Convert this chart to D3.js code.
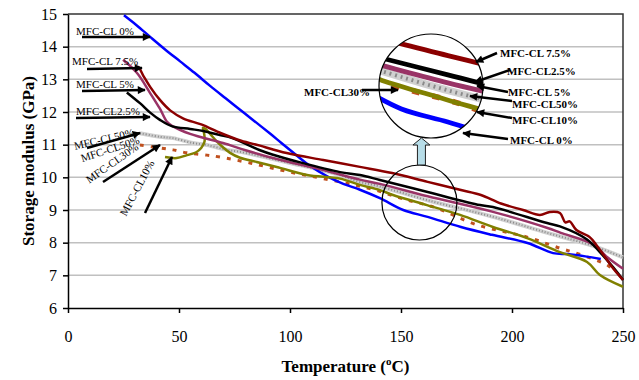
<!DOCTYPE html>
<html>
<head>
<meta charset="utf-8">
<script src="https://cdn.jsdelivr.net/npm/d3@7"></script>
<style>
  body { margin: 0; background: #fff; }
  svg text { font-family: "Liberation Serif", "Times New Roman", serif; fill: #000; }
</style>
</head>
<body>
<svg id="chart" width="639" height="380"></svg>
<script>
// values: [temperature (C), storage modulus (GPa)]
const cl0 = [[25.2,14.96],[31,14.65],[37,14.3],[44,13.9],[50.5,13.55],[57,13.2],[64,12.8],[71,12.42],
  [77.5,12.07],[84,11.72],[91,11.34],[96,11.06],[101.4,10.76],[108,10.4],[117,10.02],[124,9.8],[131.5,9.62],
  [140.5,9.36],[151,9.0],[162,8.79],[177,8.48],[191,8.24],[207,7.99],[218.5,7.68],[225,7.65],[233,7.58],[240,7.5]];
const cl75 = [[30,13.33],[31.5,13.38],[34,13.1],[37,12.77],[41.4,12.37],[46,12.05],[52,11.8],[60,11.62],
  [69,11.35],[78,11.12],[86.5,10.97],[92,10.86],[100,10.72],[115,10.53],[131.5,10.32],[146,10.13],[162,9.86],
  [177,9.61],[186,9.46],[195,9.2],[205,9.0],[212.6,8.85],[217,8.94],[221.6,8.91],[224,8.62],[226,8.65],
  [229,8.39],[235,8.17],[238,7.93],[242,7.55],[245.5,7.22],[250,6.86]];
const cl5 = [[26.5,12.6],[32.4,12.27],[37,11.98],[41.4,11.76],[47,11.56],[55,11.48],[61,11.42],[68,11.3],
  [74,11.2],[86.5,10.83],[92,10.7],[105,10.45],[122.5,10.16],[131.5,10.07],[140.5,9.92],[162,9.55],
  [185.6,9.15],[191.4,9.09],[215.8,8.6],[221.6,8.5],[233.8,8.1],[239.6,7.71],[245.5,7.25],[250,6.86]];
const cl25 = [[24.8,13.6],[31,13.2],[37,12.58],[41.4,12.1],[44.6,11.7],[47.3,11.56],[55,11.33],[69.8,11.05],
  [80,10.83],[92.3,10.59],[115,10.22],[131.5,9.93],[140.5,9.8],[162,9.42],[191,8.95],[216,8.45],[222,8.3],
  [236.5,7.95],[242.8,7.56],[250,7.2]];
const cl50 = [[32.4,11.35],[41.4,11.24],[47.3,11.2],[56.3,11.05],[62.6,10.99],[71.6,10.84],[77.5,10.78],
  [100,10.44],[122.5,10.07],[131.5,9.86],[140.5,9.72],[162,9.3],[191,8.8],[216,8.3],[236.5,7.9],[250,7.55]];
const cl30 = [[32.4,10.99],[41.4,10.9],[47.3,10.84],[53.6,10.75],[62.6,10.68],[68.5,10.62],[82,10.44],
  [100,10.16],[122.5,9.86],[137.4,9.63],[151,9.34],[166,9.06],[184,8.55],[206.8,8.17],[221.6,7.83],
  [227.5,7.71],[236.5,7.5],[242.8,7.32],[245,7.2]];
const cl10 = [[43.7,10.62],[49,10.59],[53.6,10.68],[57.5,10.76],[60,10.9],[61.5,11.1],[61.3,11.35],
  [60.8,11.52],[62,11.48],[64,11.33],[67,11.1],[69.8,10.92],[73,10.75],[77.5,10.6],[85,10.47],[95.5,10.29],
  [107.7,10.07],[122.5,9.96],[131.5,9.77],[140.5,9.61],[146.4,9.46],[161.7,9.15],[176.6,8.85],[191.4,8.48],
  [206.8,8.14],[221.6,7.71],[233.8,7.41],[239.6,7.01],[250,6.65]];

const xTicks = [0, 50, 100, 150, 200, 250];
const yTicks = [6, 7, 8, 9, 10, 11, 12, 13, 14, 15];

// the magnified spot: [temperature, modulus] of the lens centre
const lensSpot = [158, 9.37];
const lensRing = [158.3, 9.23];

const margin = {top: 14, right: 16, bottom: 72, left: 68};
const width  = 639 - margin.left - margin.right;
const height = 380 - margin.top - margin.bottom;

const x = d3.scaleLinear().domain([0, 250]).range([0, width]);
const y = d3.scaleLinear().domain([6, 15]).range([height, 0]);

const svg = d3.select("#chart");
const defs = svg.append("defs");
defs.append("marker")
    .attr("id", "head")
    .attr("viewBox", "0 0 10 10")
    .attr("refX", 9).attr("refY", 5)
    .attr("markerWidth", 9).attr("markerHeight", 8)
    .attr("markerUnits", "userSpaceOnUse")
    .attr("orient", "auto")
  .append("path").attr("d", "M0,0 L10,5 L0,10 z").attr("fill", "#000");

const g = svg.append("g").attr("transform", `translate(${margin.left},${margin.top})`);

// gridlines
g.append("g").selectAll("line")
  .data(yTicks.filter(d => d > 6 && d < 15))
  .enter().append("line")
  .attr("x1", 0).attr("x2", width)
  .attr("y1", d => y(d)).attr("y2", d => y(d))
  .attr("stroke", "#c0c0c0").attr("stroke-width", 1.5);

// frame top/right
g.append("path")
  .attr("d", `M0,0 H${width} V${height}`)
  .attr("fill", "none").attr("stroke", "#333").attr("stroke-width", 1.5);

const line = d3.line().x(d => x(d[0])).y(d => y(d[1])).curve(d3.curveCatmullRom.alpha(0.5));

const series = [
  {data: cl50, color: "#d0d0d0", w: 4},
  {data: cl50, color: "#8a8a8a", w: 2, dash: "1,2"},
  {data: cl30, color: "#c0501e", w: 3, dash: "4,7"},
  {data: cl0,  color: "#0000ff", w: 2.5},
  {data: cl10, color: "#808000", w: 2.5},
  {data: cl25, color: "#993366", w: 2.5},
  {data: cl5,  color: "#000000", w: 2.5},
  {data: cl75, color: "#8b0000", w: 2.5}
];

function drawSeries(target) {
  target.selectAll("path.s")
    .data(series)
    .enter().append("path")
    .attr("class", "s")
    .attr("d", d => line(d.data))
    .attr("fill", "none")
    .attr("stroke", d => d.color)
    .attr("stroke-width", d => d.w)
    .attr("stroke-dasharray", d => d.dash || null)
    .attr("stroke-linejoin", "round");
}
drawSeries(g.append("g"));

// axes
const yAxis = g.append("g")
  .call(d3.axisLeft(y).tickValues(yTicks).tickSize(5).tickSizeOuter(0).tickPadding(6).tickFormat(d3.format("d")));
const xAxis = g.append("g")
  .attr("transform", `translate(0,${height})`)
  .call(d3.axisBottom(x).tickValues(xTicks).tickSize(5).tickSizeOuter(0).tickPadding(18).tickFormat(d3.format("d")));
[yAxis, xAxis].forEach(a => {
  a.select(".domain").attr("stroke", "#000").attr("stroke-width", 1.5);
  a.selectAll(".tick line").attr("stroke", "#000").attr("stroke-width", 1.5);
  a.selectAll(".tick text").attr("font-family", "Liberation Serif").attr("font-size", 16);
});

// axis titles
const xt = svg.append("text")
  .attr("x", margin.left + width / 2).attr("y", 372)
  .attr("text-anchor", "middle").attr("font-size", 17).attr("font-weight", "bold");
xt.append("tspan").text("Temperature (");
xt.append("tspan").attr("font-size", 11).attr("dy", -7).text("o");
xt.append("tspan").attr("dy", 7).text("C)");

svg.append("text")
  .attr("transform", `translate(34,${margin.top + height / 2}) rotate(-90)`)
  .attr("text-anchor", "middle").attr("font-size", 17).attr("font-weight", "bold")
  .text("Storage modulus (GPa)");

// lens on the chart and its magnified copy
const ring = [x(lensRing[0]), y(lensRing[1])];
const src = [x(lensSpot[0]), y(lensSpot[1])];
const zoomC = [363, 72], zoomR = 52, ringR = 37.5, mag = 1.9;

defs.append("clipPath").attr("id", "lens")
  .append("circle").attr("cx", zoomC[0]).attr("cy", zoomC[1]).attr("r", zoomR);

const inset = g.append("g").attr("clip-path", "url(#lens)");
inset.append("circle").attr("cx", zoomC[0]).attr("cy", zoomC[1]).attr("r", zoomR).attr("fill", "#fff");
drawSeries(inset.append("g")
  .attr("transform", `translate(${zoomC[0]},${zoomC[1]}) scale(${mag}) translate(${-src[0]},${-src[1]})`));

g.append("circle").attr("cx", zoomC[0]).attr("cy", zoomC[1]).attr("r", zoomR)
  .attr("fill", "none").attr("stroke", "#000").attr("stroke-width", 1.2);
g.append("circle").attr("cx", ring[0]).attr("cy", ring[1]).attr("r", ringR)
  .attr("fill", "none").attr("stroke", "#000").attr("stroke-width", 1.2);

// block arrow between the lenses
const ax = ring[0] + 2, aTop = zoomC[1] + zoomR, aBot = ring[1] - ringR;
g.append("path")
  .attr("d", `M${ax - 4},${aBot} V${aTop + 7} H${ax - 8.5} L${ax},${aTop} L${ax + 8.5},${aTop + 7} H${ax + 4} V${aBot} Z`)
  .attr("fill", "#b7dde8").attr("stroke", "#222").attr("stroke-width", 1);

// annotations (px in svg space)
const notes = [
  {t: "MFC-CL 0%",   x: 76, y: 35},
  {t: "MFC-CL 7.5%", x: 72, y: 65},
  {t: "MFC-CL 5%",   x: 76, y: 88},
  {t: "MFC-CL2.5%",  x: 76, y: 115},
  {t: "MFC-CL50%",   x: 104, y: 139, r: -13, mid: true},
  {t: "MFC-CL50%",   x: 110, y: 149, r: -18, mid: true},
  {t: "MFC-CL30%",   x: 112, y: 163, r: -35, mid: true},
  {t: "MFC-CL10%",   x: 137, y: 188, r: -62, mid: true},
  {t: "MFC-CL 7.5%", x: 500, y: 57, b: true},
  {t: "MFC-CL2.5%",  x: 507, y: 75, b: true},
  {t: "MFC-CL 5%",   x: 508, y: 96, b: true},
  {t: "MFC-CL50%",   x: 512, y: 108, b: true},
  {t: "MFC-CL10%",   x: 512, y: 124, b: true},
  {t: "MFC-CL 0%",   x: 510, y: 144, b: true},
  {t: "MFC-CL30%",   x: 304, y: 96, b: true}
];
const pointers = [
  [82, 37, 150, 37], [87, 69, 142, 68], [82, 91, 145, 90], [76, 118, 150, 117],
  [87, 148, 140, 133], [103, 182, 160, 145], [145, 213, 172, 157],
  [497, 53, 476, 62], [510, 70, 475, 82], [508, 92, 477, 86], [512, 101, 470, 96],
  [512, 118, 477, 112], [508, 139, 463, 133], [362, 90, 398, 90]
];

svg.append("g").selectAll("line")
  .data(pointers)
  .enter().append("line")
  .attr("x1", d => d[0]).attr("y1", d => d[1]).attr("x2", d => d[2]).attr("y2", d => d[3])
  .attr("stroke", "#000").attr("stroke-width", 2.5)
  .attr("marker-end", "url(#head)");

svg.append("g").selectAll("text")
  .data(notes)
  .enter().append("text")
  .attr("transform", d => `translate(${d.x},${d.y})` + (d.r ? ` rotate(${d.r})` : ""))
  .attr("text-anchor", d => d.mid ? "middle" : "start")
  .attr("dy", d => d.mid ? "0.35em" : null)
  .attr("font-size", 11)
  .attr("font-weight", d => d.b ? "bold" : null)
  .text(d => d.t);
</script>
</body>
</html>
